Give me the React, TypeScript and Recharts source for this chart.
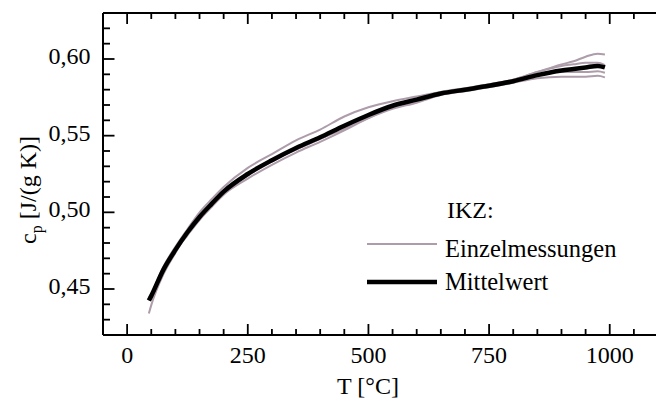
import { LineChart, Line, XAxis, YAxis } from 'recharts'

// temperatures (°C) and measured c_p values (J/(g K))
const temps = [45, 50, 75, 100, 125, 150, 175, 200, 250, 300, 350, 400, 450, 500, 550, 600, 650, 700, 750, 800, 850, 900, 925, 950, 975, 990]

const mittelwert = [0.4425, 0.4455, 0.4625, 0.4755, 0.487, 0.497, 0.5055, 0.5135, 0.525, 0.534, 0.542, 0.549, 0.5565, 0.5635, 0.5695, 0.5735, 0.5775, 0.58, 0.5825, 0.5855, 0.5895, 0.5925, 0.5935, 0.5945, 0.5955, 0.5945]
const messung1 = [0.4435, 0.4465, 0.4645, 0.4775, 0.489, 0.5, 0.5085, 0.5165, 0.529, 0.538, 0.547, 0.554, 0.5625, 0.5685, 0.5725, 0.5755, 0.5785, 0.58, 0.5835, 0.5865, 0.5915, 0.5955, 0.5965, 0.5975, 0.5975, 0.596]
const messung2 = [0.4425, 0.4455, 0.4615, 0.4745, 0.485, 0.495, 0.5035, 0.5115, 0.522, 0.531, 0.539, 0.546, 0.5535, 0.5615, 0.5685, 0.5725, 0.5775, 0.58, 0.5825, 0.5855, 0.5895, 0.5915, 0.5915, 0.5915, 0.592, 0.591]
const messung3 = [0.4445, 0.4465, 0.4635, 0.4765, 0.487, 0.497, 0.5055, 0.5135, 0.525, 0.534, 0.541, 0.548, 0.5555, 0.5625, 0.5695, 0.5735, 0.5785, 0.581, 0.5835, 0.5865, 0.5915, 0.5965, 0.5985, 0.6015, 0.6035, 0.603]
const messung4 = [0.434, 0.4395, 0.4595, 0.4735, 0.486, 0.496, 0.5045, 0.5125, 0.524, 0.533, 0.541, 0.548, 0.5545, 0.5615, 0.5675, 0.5715, 0.5765, 0.579, 0.5815, 0.5845, 0.5875, 0.5885, 0.5885, 0.5885, 0.589, 0.588]

const xTicks = [0, 50, 100, 150, 200, 250, 300, 350, 400, 450, 500, 550, 600, 650, 700, 750, 800, 850, 900, 950, 1000, 1050]
const xLabels = [0, 250, 500, 750, 1000]
const yTicks = [0.43, 0.44, 0.45, 0.46, 0.47, 0.48, 0.49, 0.5, 0.51, 0.52, 0.53, 0.54, 0.55, 0.56, 0.57, 0.58, 0.59, 0.6, 0.61, 0.62]
const yLabels = ['0,45', '0,50', '0,55', '0,60']

const data = temps.map((t, i) => ({
  T: t,
  m1: messung1[i],
  m2: messung2[i],
  m3: messung3[i],
  m4: messung4[i],
  mean: mittelwert[i],
}))

const txt = { fontFamily: "'Liberation Serif', 'DejaVu Serif', serif", fill: '#000' }
const GREY = '#ad9caa'

const yLabelOf = (v: number) => v.toFixed(2).replace('.', ',')

function BottomTick({ x, y, payload }: any) {
  const major = xLabels.includes(payload.value)
  return (
    <g>
      <line x1={x} x2={x} y1={y} y2={y - (major ? 11 : 6)} stroke="#000" strokeWidth={1.8} />
      {major && (
        <text x={x} y={y + 28} textAnchor="middle" fontSize={24} style={txt}>
          {payload.value}
        </text>
      )}
    </g>
  )
}

function TopTick({ x, y, payload }: any) {
  const major = xLabels.includes(payload.value)
  return <line x1={x} x2={x} y1={y} y2={y + (major ? 11 : 6)} stroke="#000" strokeWidth={1.8} />
}

function LeftTick({ x, y, payload }: any) {
  const label = yLabelOf(payload.value)
  const major = yLabels.includes(label)
  return (
    <g>
      <line x1={x} x2={x + (major ? 11.5 : 7)} y1={y} y2={y} stroke="#000" strokeWidth={1.8} />
      {major && (
        <text x={x - 12.5} y={y + 5} textAnchor="end" fontSize={24} style={txt}>
          {label}
        </text>
      )}
    </g>
  )
}

function XTitle() {
  return (
    <text x={368} y={394} textAnchor="middle" fontSize={24} style={txt}>
      T [°C]
    </text>
  )
}

function YTitle() {
  return (
    <text x={36} y={190} transform="rotate(-90, 36, 190)" textAnchor="middle" fontSize={24} style={txt}>
      <tspan>c</tspan>
      <tspan fontSize={16} dy={6}>p</tspan>
      <tspan dy={-6}> [J/(g K)]</tspan>
    </text>
  )
}

function LegendBox() {
  return (
    <svg width={290} height={105} style={{ position: 'absolute', left: 360, top: 195 }}>
      <text x={87} y={23} fontSize={24} style={txt}>IKZ:</text>
      <line x1={7} x2={77} y1={49} y2={49} stroke={GREY} strokeWidth={2} />
      <text x={85} y={62} fontSize={24.5} style={txt}>Einzelmessungen</text>
      <line x1={7} x2={77} y1={87} y2={87} stroke="#000" strokeWidth={4.5} />
      <text x={85} y={95} fontSize={24.5} style={txt}>Mittelwert</text>
    </svg>
  )
}

export default function App() {
  return (
    <div style={{ position: 'absolute', left: 0, top: 0, width: 656, height: 405, overflow: 'hidden', background: '#fff' }}>
      <LineChart width={656} height={405} data={data} margin={{ top: 0, right: -2, bottom: 0, left: 0 }}>
        <XAxis
          xAxisId="bottom"
          dataKey="T"
          type="number"
          domain={[-50, 1100]}
          ticks={xTicks}
          height={70}
          tickSize={0}
          tickMargin={0}
          tickLine={false}
          axisLine={{ stroke: '#000', strokeWidth: 2 }}
          tick={BottomTick}
          interval={0}
          label={<XTitle />}
        />
        <XAxis
          xAxisId="top"
          orientation="top"
          dataKey="T"
          type="number"
          domain={[-50, 1100]}
          ticks={xTicks}
          height={13}
          tickSize={0}
          tickMargin={0}
          tickLine={false}
          axisLine={{ stroke: '#000', strokeWidth: 2 }}
          tick={TopTick}
          interval={0}
        />
        <YAxis
          yAxisId="left"
          type="number"
          domain={[0.42, 0.63]}
          ticks={yTicks}
          width={103}
          tickSize={0}
          tickMargin={0}
          tickLine={false}
          axisLine={{ stroke: '#000', strokeWidth: 2 }}
          tick={LeftTick}
          interval={0}
          label={<YTitle />}
        />
        <Line xAxisId="bottom" yAxisId="left" type="monotone" dataKey="m1" stroke={GREY} strokeWidth={2} dot={false} isAnimationActive={false} />
        <Line xAxisId="bottom" yAxisId="left" type="monotone" dataKey="m2" stroke={GREY} strokeWidth={2} dot={false} isAnimationActive={false} />
        <Line xAxisId="bottom" yAxisId="left" type="monotone" dataKey="m3" stroke={GREY} strokeWidth={2} dot={false} isAnimationActive={false} />
        <Line xAxisId="bottom" yAxisId="left" type="monotone" dataKey="m4" stroke={GREY} strokeWidth={2} dot={false} isAnimationActive={false} />
        <Line xAxisId="bottom" yAxisId="left" type="monotone" dataKey="mean" stroke="#000" strokeWidth={4.5} dot={false} isAnimationActive={false} />
      </LineChart>
      <LegendBox />
    </div>
  )
}
